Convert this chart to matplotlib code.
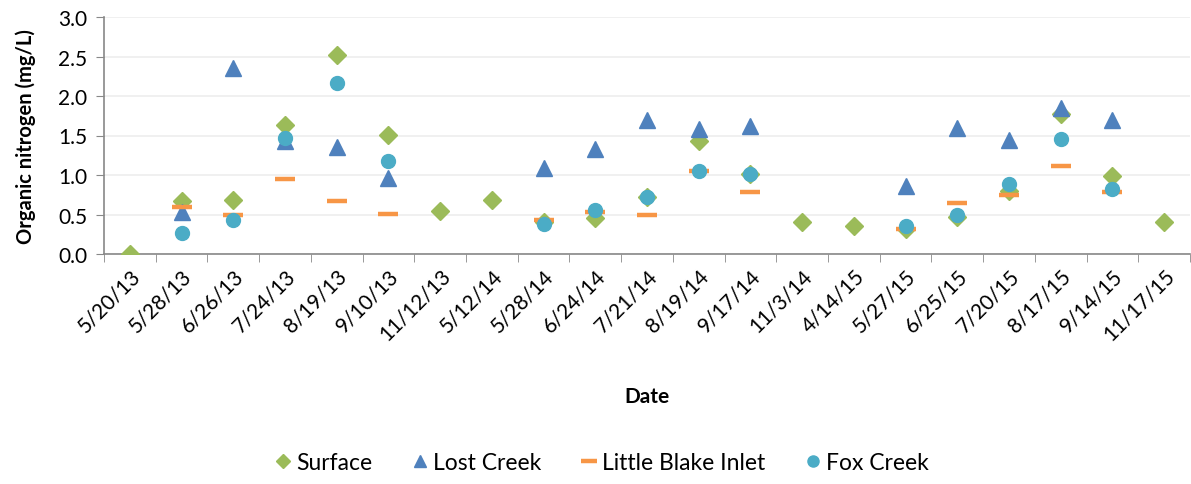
import numpy as np
import matplotlib.pyplot as plt

nan = np.nan
dates = ['5/20/13', '5/28/13', '6/26/13', '7/24/13', '8/19/13', '9/10/13', '11/12/13',
         '5/12/14', '5/28/14', '6/24/14', '7/21/14', '8/19/14', '9/17/14', '11/3/14',
         '4/14/15', '5/27/15', '6/25/15', '7/20/15', '8/17/15', '9/14/15', '11/17/15']
surface = [0.0, 0.67, 0.68, 1.63, 2.52, 1.51, 0.55, 0.68, 0.40, 0.46, 0.72,
           1.43, 1.01, 0.40, 0.36, 0.32, 0.47, 0.80, 1.77, 0.99, 0.41]
lost_creek = [nan, 0.53, 2.36, 1.43, 1.35, 0.96, nan, nan, 1.09, 1.33, 1.70,
              1.58, 1.62, nan, nan, 0.86, 1.59, 1.44, 1.85, 1.70, nan]
little_blake = [nan, 0.60, 0.50, 0.95, 0.675, 0.51, nan, nan, 0.43, 0.535, 0.49,
                1.05, 0.78, nan, nan, 0.32, 0.65, 0.75, 1.12, 0.79, nan]
fox_creek = [nan, 0.27, 0.43, 1.47, 2.17, 1.18, nan, nan, 0.38, 0.56, 0.72,
             1.05, 1.01, nan, nan, 0.36, 0.49, 0.88, 1.46, 0.82, nan]

plt.rcParams['font.family'] = ['Lato', 'DejaVu Sans']

fig = plt.figure(figsize=(11.91, 4.85), dpi=100)
ax = fig.add_axes([104 / 1191, 1 - 255 / 485, (1190 - 104) / 1191, (255 - 18) / 485])

x = np.arange(len(dates))
ax.plot(x, surface, 'D', color='#9BBB59', markersize=9, linestyle='none', label='Surface', zorder=3)
ax.plot(x, lost_creek, '^', color='#4F81BD', markersize=11, linestyle='none', label='Lost Creek', zorder=4)
ax.plot(x, little_blake, '_', color='#F79646', markersize=14, markeredgewidth=3.2,
        linestyle='none', label='Little Blake Inlet', zorder=5)
ax.plot(x, fox_creek, 'o', color='#4BACC6', markersize=10, linestyle='none', label='Fox Creek', zorder=6)

ax.set_xlim(-0.5, len(dates) - 0.5)
ax.set_ylim(0, 3.0)
ax.set_yticks(np.arange(0, 3.01, 0.5))
ax.set_yticklabels(['%.1f' % v for v in np.arange(0, 3.01, 0.5)], fontsize=15)
ax.yaxis.grid(True, color='#EDEDED', linewidth=1.2)
ax.set_axisbelow(True)

ax.set_xticks(x)
ax.set_xticklabels(dates, rotation=45, ha='right', rotation_mode='anchor', fontsize=15)
ax.set_xticks(np.arange(-0.5, len(dates)), minor=True)
ax.tick_params(axis='x', which='major', length=0, pad=8)
ax.tick_params(axis='x', which='minor', length=6, color='#888888')
ax.tick_params(axis='y', length=6, color='#888888', pad=6)

for s in ['top', 'right']:
    ax.spines[s].set_visible(False)
for s in ['left', 'bottom']:
    ax.spines[s].set_color('#888888')
    ax.spines[s].set_linewidth(1.2)

ax.set_ylabel('Organic nitrogen (mg/L)', fontsize=14.5, fontweight='bold', labelpad=16)
ax.set_xlabel('Date', fontsize=15, fontweight='bold', labelpad=30)

ax.legend(loc='center', bbox_to_anchor=(0.457, -0.88), ncol=4, frameon=False,
          fontsize=16.5, handletextpad=0.05, columnspacing=1.6, handlelength=1.0,
          markerscale=0.8)

fig.savefig('out.png', dpi=100)
